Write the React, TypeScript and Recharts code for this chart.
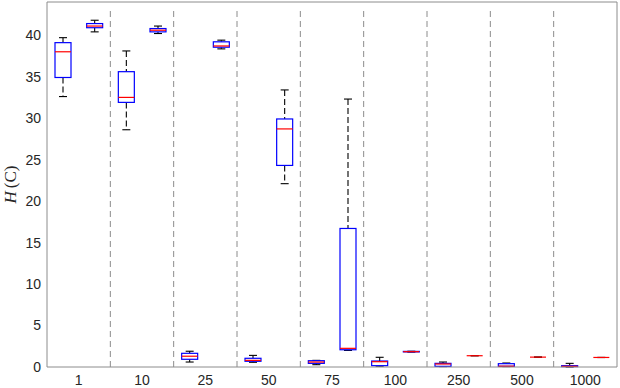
import React from 'react';
import {
  ComposedChart, Bar, XAxis, YAxis, ReferenceLine,
} from 'recharts';

// group labels (bottom axis)
const groups = ['1', '10', '25', '50', '75', '100', '250', '500', '1000'];

// left box of every group
const lowA = [32.6, 28.6, 0.6, 0.57, 0.28, 0.1, 0.05, 0.05, 0.0];
const q1A = [34.9, 31.9, 0.93, 0.69, 0.44, 0.16, 0.08, 0.08, 0.05];
const medA = [38.0, 32.5, 1.3, 0.8, 0.6, 0.64, 0.36, 0.1, 0.08];
const q3A = [39.1, 35.6, 1.65, 1.05, 0.76, 0.72, 0.44, 0.4, 0.16];
const highA = [39.7, 38.1, 1.9, 1.4, 0.8, 1.17, 0.6, 0.48, 0.44];

// right box of every group
const lowB = [40.4, 40.2, 38.35, 22.1, 2.0, 1.8, 1.35, 1.18, 1.14];
const q1B = [40.9, 40.4, 38.55, 24.3, 2.08, 1.82, 1.36, 1.19, 1.15];
const medB = [41.1, 40.6, 38.7, 28.7, 2.25, 1.85, 1.36, 1.19, 1.15];
const q3B = [41.4, 40.8, 39.2, 29.9, 16.7, 1.88, 1.36, 1.19, 1.15];
const highB = [41.8, 41.1, 39.4, 33.4, 32.3, 1.9, 1.37, 1.2, 1.16];

const yTicks = [0, 5, 10, 15, 20, 25, 30, 35, 40];

const rows = groups.flatMap((g, i) => [
  { key: `${g}a`, pos: 2 * i + 0.5, low: lowA[i], q1: q1A[i], med: medA[i], q3: q3A[i], high: highA[i] },
  { key: `${g}b`, pos: 2 * i + 1.5, low: lowB[i], q1: q1B[i], med: medB[i], q3: q3B[i], high: highB[i] },
]);

// group centres, plus the two frame edges (blank labels)
const groupTicks = [0, ...groups.map((_, i) => 2 * i + 1), 18];
const separators = groups.slice(1).map((_, i) => 2 * i + 2);

const AXIS = '#8c8c8c';
const TEXT = '#262626';
const FONT = "'Liberation Sans', Arial, sans-serif";

// box drawn inside the bar that spans low..high
const BoxShape = (props: any) => {
  const { x, y, width, height, payload } = props;
  const { low, q1, med, q3, high } = payload;
  const span = high - low;
  const py = (v: number) => (span > 0 ? y + ((high - v) / span) * height : y);
  const cx = x + width / 2;
  const boxH = py(q1) - py(q3);
  return (
    <g>
      <line x1={cx} x2={cx} y1={py(high)} y2={py(q3)} stroke="#000" strokeWidth={1.1} strokeDasharray="6 3" />
      <line x1={cx} x2={cx} y1={py(q1)} y2={py(low)} stroke="#000" strokeWidth={1.1} strokeDasharray="6 3" />
      <line x1={cx - 4} x2={cx + 4} y1={py(high)} y2={py(high)} stroke="#000" strokeWidth={1.1} />
      <line x1={cx - 4} x2={cx + 4} y1={py(low)} y2={py(low)} stroke="#000" strokeWidth={1.1} />
      {boxH > 0 && (
        <rect x={x} y={py(q3)} width={width} height={boxH} fill="#fff" stroke="#0000ff" strokeWidth={1.2} />
      )}
      <line x1={x} x2={x + width} y1={py(med)} y2={py(med)} stroke="#ff0000" strokeWidth={1.2} />
    </g>
  );
};

const YLabel = (props: any) => {
  const { viewBox } = props;
  const cx = viewBox.x + 16;
  const cy = viewBox.y + viewBox.height / 2;
  return (
    <text x={cx} y={cy} transform={`rotate(-90 ${cx} ${cy})`} textAnchor="middle"
      fontFamily="'Liberation Serif', serif" fontSize={17} fill={TEXT}>
      <tspan fontStyle="italic">H</tspan>
      <tspan dx={3}>(C)</tspan>
    </text>
  );
};

const groupLabel = (v: number) => (v % 2 === 1 ? groups[(v - 1) / 2] : '');

export default function App() {
  return (
    <div style={{ position: 'absolute', left: 0, top: 0, background: '#fff' }}>
      <ComposedChart width={620} height={388} data={rows} margin={{ top: 2, right: 3, left: 0, bottom: 0 }}>
        <XAxis xAxisId="cat" dataKey="key" type="category" hide height={0} />
        {/* bottom axis with labels */}
        <XAxis
          xAxisId="num" dataKey="pos" type="number" domain={[0, 18]} ticks={groupTicks} interval={0}
          tickFormatter={groupLabel} height={21} tickLine={false} tickSize={0} tickMargin={8}
          stroke={AXIS} tick={{ fill: TEXT, fontSize: 14, fontFamily: FONT }}
        />
        {/* inward tick marks, bottom and top */}
        <XAxis
          xAxisId="numTick" dataKey="pos" type="number" domain={[0, 18]} ticks={groupTicks} interval={0}
          mirror tick={false} axisLine={false} tickSize={5} stroke={AXIS}
        />
        <XAxis
          xAxisId="top" dataKey="pos" orientation="top" type="number" domain={[0, 18]} ticks={groupTicks} interval={0}
          mirror tick={false} tickSize={5} stroke={AXIS}
        />
        <YAxis
          type="number" domain={[0, 44]} ticks={yTicks} interval={0} width={47}
          tickLine={false} tickSize={0} tickMargin={6} stroke={AXIS}
          tick={{ fill: TEXT, fontSize: 14, fontFamily: FONT }}
          label={<YLabel />}
        />
        <YAxis
          yAxisId="leftTick" type="number" domain={[0, 44]} ticks={yTicks} interval={0}
          mirror tick={false} axisLine={false} tickSize={5} stroke={AXIS}
        />
        <YAxis
          yAxisId="right" orientation="right" type="number" domain={[0, 44]} ticks={yTicks} interval={0}
          mirror tick={false} tickSize={5} stroke={AXIS}
        />
        {separators.map((s) => (
          <ReferenceLine key={s} xAxisId="num" segment={[{ x: s, y: 0 }, { x: s, y: 43 }]}
            stroke={AXIS} strokeDasharray="6 4" strokeWidth={1} />
        ))}
        <Bar xAxisId="cat" dataKey={(d: any) => [d.low, d.high]} barSize={16}
          shape={<BoxShape />} isAnimationActive={false} />
      </ComposedChart>
    </div>
  );
}
